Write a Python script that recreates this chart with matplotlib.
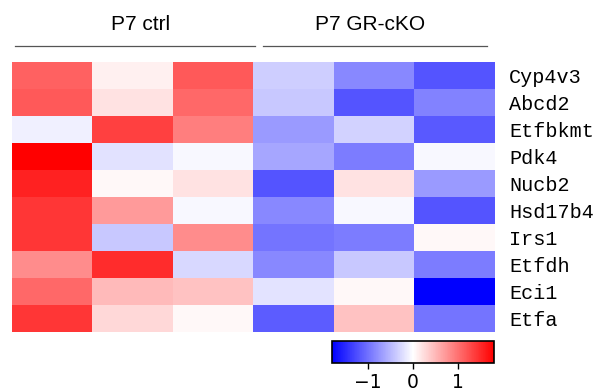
import numpy as np
import matplotlib
matplotlib.use("Agg")
import matplotlib.pyplot as plt

genes = ["Cyp4v3", "Abcd2", "Etfbkmt", "Pdk4", "Nucb2",
         "Hsd17b4", "Irs1", "Etfdh", "Eci1", "Etfa"]
groups = ["P7 ctrl", "P7 GR-cKO"]

# z-scores, 3 ctrl + 3 cKO samples per gene
cyp4v3 = [1.10, 0.10, 1.16, -0.35, -0.84, -1.20]
abcd2 = [1.16, 0.21, 1.06, -0.39, -1.20, -0.88]
etfbkmt = [-0.10, 1.34, 0.90, -0.71, -0.32, -1.16]
pdk4 = [1.80, -0.21, -0.05, -0.63, -0.92, -0.05]
nucb2 = [1.55, 0.05, 0.21, -1.20, 0.21, -0.71]
hsd17b4 = [1.41, 0.71, -0.05, -0.84, -0.05, -1.20]
irs1 = [1.41, -0.39, 0.81, -0.98, -0.92, 0.05]
etfdh = [0.81, 1.48, -0.27, -0.84, -0.39, -0.92]
eci1 = [1.06, 0.49, 0.43, -0.19, 0.05, -1.80]
etfa = [1.41, 0.27, 0.05, -1.14, 0.43, -0.98]

z = np.array([cyp4v3, abcd2, etfbkmt, pdk4, nucb2,
              hsd17b4, irs1, etfdh, eci1, etfa])
vmax = 1.8

fig = plt.figure(figsize=(6.08, 3.92), dpi=100)
W, H = 608, 392

ax = fig.add_axes([12 / W, 1 - 332 / H, (495 - 12) / W, (332 - 62) / H])
im = ax.imshow(z, cmap="bwr", vmin=-vmax, vmax=vmax, aspect="auto",
               interpolation="nearest")
ax.set_xticks([])
ax.set_yticks(range(len(genes)))
ax.set_yticklabels(genes, family="Liberation Mono", fontsize=14.5)
ax.yaxis.tick_right()
ax.tick_params(axis="y", length=0, pad=10)
for s in ax.spines.values():
    s.set_visible(False)

# group headers with underline
fig.text(141 / W, 1 - 25 / H, groups[0], ha="center", va="center",
         fontsize=15, family="Liberation Sans")
fig.text(370 / W, 1 - 25 / H, groups[1], ha="center", va="center",
         fontsize=15, family="Liberation Sans")
fig.add_artist(plt.Line2D([15 / W, 255 / W], [1 - 46 / H] * 2, color="#555555", lw=0.9))
fig.add_artist(plt.Line2D([263 / W, 487 / W], [1 - 46 / H] * 2, color="#555555", lw=0.9))

cax = fig.add_axes([332 / W, 1 - 363 / H, (494 - 332) / W, (363 - 341) / H])
cb = fig.colorbar(im, cax=cax, orientation="horizontal", ticks=[-1, 0, 1])
cb.outline.set_linewidth(1.2)
cax.tick_params(labelsize=13.5, length=4, width=1)
for t in cax.get_xticklabels():
    t.set_family("DejaVu Sans")

fig.savefig("out.png", dpi=100)
